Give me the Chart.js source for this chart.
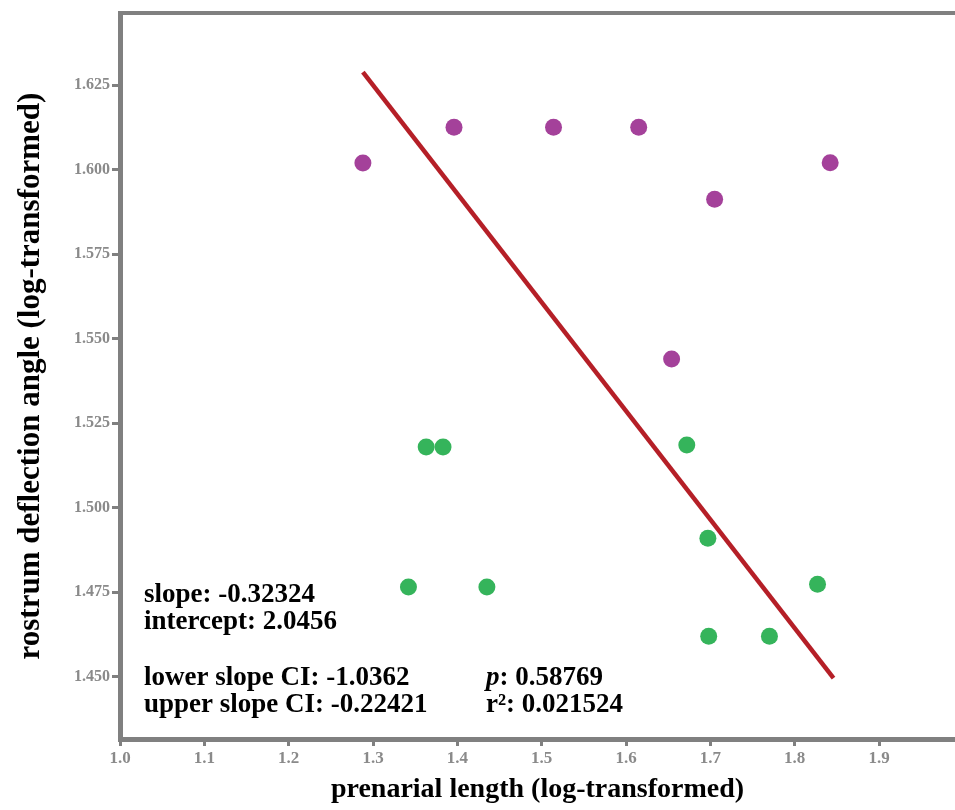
<!DOCTYPE html>
<html>
<head>
<meta charset="utf-8">
<script src="https://cdn.jsdelivr.net/npm/chart.js@4"></script>
<style>
  html, body { margin: 0; padding: 0; background: #fff; }
  #wrap { width: 955px; height: 810px; }
</style>
</head>
<body>
<div id="wrap"><canvas id="regChart" width="955" height="810"></canvas></div>
<script>
// purple group
const xPurple = [1.288, 1.396, 1.514, 1.615, 1.705, 1.842, 1.654];
const yPurple = [1.602, 1.6126, 1.6126, 1.6126, 1.5913, 1.6021, 1.544];
// green group
const xGreen = [1.363, 1.383, 1.342, 1.435, 1.672, 1.697, 1.827, 1.698, 1.770];
const yGreen = [1.518, 1.518, 1.4766, 1.4766, 1.5186, 1.491, 1.4774, 1.462, 1.462];
// fitted line ends
const xFit = [1.288, 1.846];
const yFit = [1.6289, 1.4496];

const statsLeft = ['slope: -0.32324', 'intercept: 2.0456', '', 'lower slope CI: -1.0362', 'upper slope CI: -0.22421'];
const statP = '0.58769';
const statR2 = '0.021524';

const xTitle = 'prenarial length (log-transformed)';
const yTitle = 'rostrum deflection angle (log-transformed)';

const axisGrey = '#808080';
const serif = "'Liberation Serif', 'DejaVu Serif', serif";

function toPoints(xs, ys) {
    return xs.map((x, i) => ({x: x, y: ys[i]}));
}

// top frame line + regression stats text
const framePlugin = {
    id: 'frame',
    afterDraw(chart) {
        const ctx = chart.ctx;
        const a = chart.chartArea;
        ctx.save();
        ctx.strokeStyle = axisGrey;
        ctx.lineWidth = 4;
        ctx.beginPath();
        ctx.moveTo(a.left - 2, a.top);
        ctx.lineTo(a.right, a.top);
        ctx.stroke();

        ctx.fillStyle = '#000';
        ctx.textBaseline = 'alphabetic';
        ctx.font = 'bold 27px ' + serif;
        const x0 = a.left + 24;
        let y = 602;
        statsLeft.forEach(s => {
            if (s) ctx.fillText(s, x0, y);
            y += s ? 27 : 29;
        });
        const x1 = a.left + 366;
        ctx.font = 'italic bold 27px ' + serif;
        ctx.fillText('p', x1, 685);
        const pw = ctx.measureText('p').width;
        ctx.font = 'bold 27px ' + serif;
        ctx.fillText(': ' + statP, x1 + pw, 685);
        ctx.fillText('r\u00b2: ' + statR2, x1, 712);
        ctx.restore();
    }
};

const ctx = document.getElementById('regChart').getContext('2d');
new Chart(ctx, {
    type: 'scatter',
    data: {
        datasets: [
            {
                label: 'fit',
                data: toPoints(xFit, yFit),
                showLine: true,
                borderColor: '#b51f27',
                borderWidth: 4.5,
                pointRadius: 0,
                order: 0
            },
            {
                label: 'purple',
                data: toPoints(xPurple, yPurple),
                backgroundColor: '#a4419a',
                borderWidth: 0,
                pointRadius: 8.5,
                order: 1
            },
            {
                label: 'green',
                data: toPoints(xGreen, yGreen),
                backgroundColor: '#35b45b',
                borderWidth: 0,
                pointRadius: 8.5,
                order: 1
            }
        ]
    },
    options: {
        responsive: false,
        animation: false,
        layout: { autoPadding: false, padding: { top: 13, right: 0, left: 0, bottom: 0 } },
        plugins: {
            legend: { display: false },
            tooltip: { enabled: false }
        },
        scales: {
            x: {
                type: 'linear',
                min: 1.0,
                max: 1.99,
                afterFit(scale) {
                    scale.height = 71;
                    scale.paddingLeft = 0;
                    scale.paddingRight = 0;
                },
                border: { color: axisGrey, width: 5 },
                grid: {
                    drawOnChartArea: false,
                    drawTicks: true,
                    tickLength: 7,
                    lineWidth: 3,
                    color: axisGrey
                },
                ticks: {
                    stepSize: 0.1,
                    includeBounds: false,
                    padding: 2,
                    color: '#8a8a8a',
                    font: { family: serif, size: 17, weight: 'bold' },
                    callback: v => v.toFixed(1)
                },
                title: {
                    display: true,
                    text: xTitle,
                    color: '#000',
                    font: { family: serif, size: 28, weight: 'bold' },
                    padding: { top: 0, bottom: 3 }
                }
            },
            y: {
                type: 'linear',
                min: 1.4316,
                max: 1.6464,
                afterFit(scale) {
                    scale.width = 120;
                    scale.paddingTop = 0;
                    scale.paddingBottom = 0;
                },
                border: { color: axisGrey, width: 5 },
                grid: {
                    drawOnChartArea: false,
                    drawTicks: true,
                    tickLength: 8,
                    lineWidth: 3,
                    color: axisGrey
                },
                ticks: {
                    stepSize: 0.025,
                    includeBounds: false,
                    padding: 2,
                    color: '#8a8a8a',
                    font: { family: serif, size: 16, weight: 'bold' },
                    callback: v => v.toFixed(3)
                },
                title: {
                    display: true,
                    text: yTitle,
                    color: '#000',
                    font: { family: serif, size: 31, weight: 'bold' },
                    padding: { top: 12, bottom: 0 }
                }
            }
        }
    },
    plugins: [framePlugin]
});
</script>
</body>
</html>
